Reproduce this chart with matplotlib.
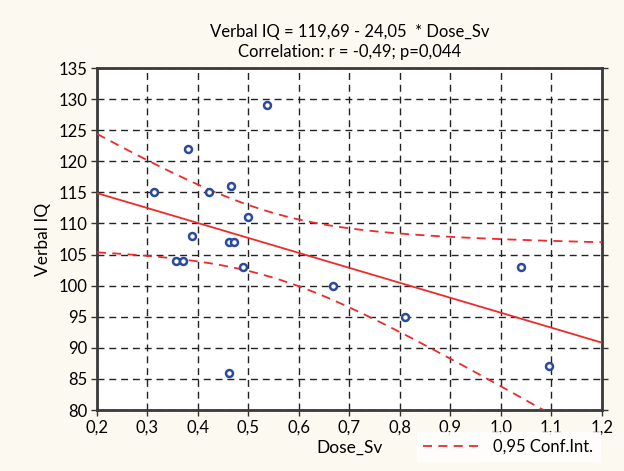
import numpy as np
import matplotlib.pyplot as plt

# Dose (Sv) and verbal IQ for each subject
dose_sv = [0.537, 0.380, 0.313, 0.422, 0.465, 0.500, 0.389, 0.462, 0.472,
           0.356, 0.370, 0.490, 0.667, 0.461, 0.810, 1.040, 1.096]
verbal_iq = [129, 122, 115, 115, 116, 111, 108, 107, 107,
             104, 104, 103, 100, 86, 95, 103, 87]

# fitted line as stated in the header
intercept = 119.69
slope = -24.05
t_crit = 2.131  # t(0.975, df=15)

x = np.array(dose_sv)
y = np.array(verbal_iq)
n = len(x)
resid = y - (intercept + slope * x)
s = np.sqrt(np.sum(resid ** 2) / (n - 2))
sxx = np.sum((x - x.mean()) ** 2)

xs = np.linspace(0.2, 1.2, 200)
fit = intercept + slope * xs
half = t_crit * s * np.sqrt(1 / n + (xs - x.mean()) ** 2 / sxx)

plt.rcParams['font.family'] = ['Lato', 'DejaVu Sans']
fig = plt.figure(figsize=(6.24, 4.71), dpi=100, facecolor='#fcf9f1')
ax = fig.add_axes([0.1554, 0.1295, 0.8093, 0.7261])
ax.set_facecolor('white')

red = '#ee2a2a'
ax.plot(xs, fit, color=red, lw=1.3, zorder=3)
ax.plot(xs, fit + half, color=red, lw=1.3, ls=(0, (5, 3.5)), zorder=3)
ax.plot(xs, fit - half, color=red, lw=1.3, ls=(0, (5, 3.5)), zorder=3,
        label='0,95 Conf.Int.')
ax.plot(x, y, 'o', ms=5, mfc='white', mec='#2a4a9e', mew=1.8, zorder=4)

ax.set_xlim(0.2, 1.2)
ax.set_ylim(80, 135)
xt = np.arange(0.2, 1.21, 0.1)
ax.set_xticks(xt)
ax.set_xticklabels([('%.1f' % v).replace('.', ',') for v in xt])
ax.set_yticks(np.arange(80, 136, 5))
ax.tick_params(labelsize=12, length=4, width=1, color='#333333',
               right=True, pad=3)
ax.grid(True, color='#222222', ls=(0, (5, 3.5)), lw=1)
for sp in ax.spines.values():
    sp.set_color('#3a3a3a')
    sp.set_linewidth(2)

ax.set_xlabel('Dose_Sv', fontsize=12.5, labelpad=3)
ax.set_ylabel('Verbal IQ', fontsize=12.5, labelpad=5)
ax.set_title('Verbal IQ = 119,69 - 24,05  * Dose_Sv\nCorrelation: r = -0,49; p=0,044',
             fontsize=12, linespacing=1.3, pad=8)

leg = fig.legend(loc='lower right', bbox_to_anchor=(0.975, 0.003),
                 fontsize=12, frameon=True, fancybox=False, handlelength=3.4,
                 borderpad=0.4)
leg.get_frame().set_edgecolor('white')
leg.get_frame().set_facecolor('white')

fig.savefig('out.png', dpi=100, facecolor=fig.get_facecolor())
